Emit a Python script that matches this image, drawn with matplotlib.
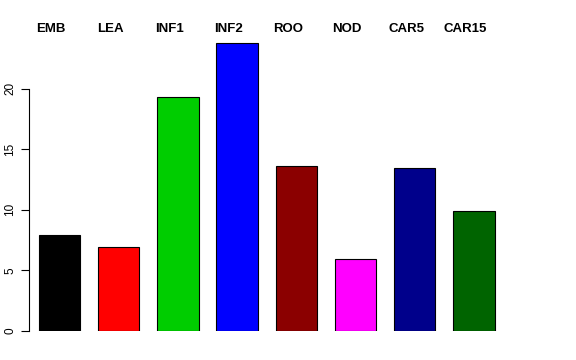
import matplotlib
matplotlib.use("Agg")
import matplotlib.pyplot as plt

tissues = ["EMB", "LEA", "INF1", "INF2", "ROO", "NOD", "CAR5", "CAR15"]
values = [7.9, 6.9, 19.35, 23.8, 13.6, 5.92, 13.45, 9.88]
bar_colors = ["#000000", "#FF0000", "#00CD00", "#0000FF",
              "#8B0000", "#FF00FF", "#00008B", "#006400"]
yticks = [0, 5, 10, 15, 20]

plt.rcParams["font.family"] = ["Liberation Sans", "DejaVu Sans"]

W, H = 576, 360
fig = plt.figure(figsize=(W / 100, H / 100), dpi=100)

# axes in pixel layout: left edge at y-axis line, bottom at zero line
left_px, right_px, bottom_px, top_px = 29, 520, 331, 30
ax = fig.add_axes([left_px / W, (H - bottom_px) / H,
                   (right_px - left_px) / W, (bottom_px - top_px) / H])

pitch = 59.2
x0 = 59.5
xs = list(range(len(tissues)))
ax.bar(xs, values, width=0.70, color=bar_colors, edgecolor="black", linewidth=0.8)

ax.set_xlim((left_px - x0) / pitch, (right_px - x0) / pitch)
ax.set_ylim(0, (bottom_px - top_px) / 12.115)

for s in ["top", "right", "bottom"]:
    ax.spines[s].set_visible(False)
ax.spines["left"].set_bounds(0, 20)
ax.spines["left"].set_linewidth(0.8)
ax.set_xticks([])
ax.set_yticks(yticks)
ax.set_yticklabels([str(t) for t in yticks], rotation=90, va="center", fontsize=8.5)
ax.tick_params(axis="y", length=5.5, width=0.8, pad=3.5)

# names sit a bit left of the bar centres
for x, name in zip(xs, tissues):
    fig.text((x0 - 8.5 + pitch * x) / W, (H - 29.5) / H, name, ha="center", va="center",
             fontsize=9.5, fontweight="bold")

fig.savefig("out.png", dpi=100)
